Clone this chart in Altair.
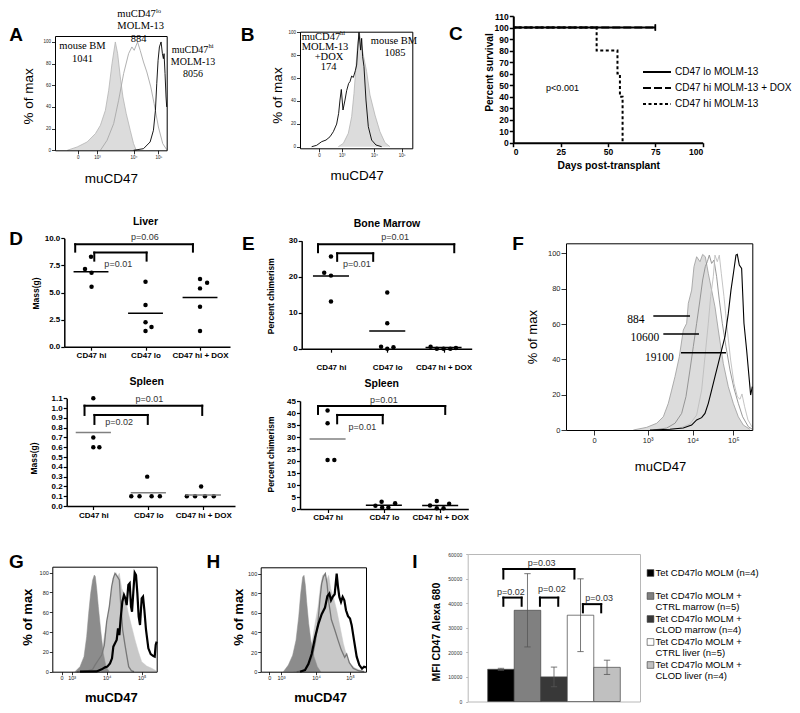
import altair as alt
import pandas as pd

W, H = 784, 697
M = 8
SANS = "Liberation Sans"
SERIF = "Liberation Serif"

# ======================= DATA =======================
HIST_LABELS = ["0", "10³", "10⁴", "10⁵"]
PCT_TICKS = [0, 20, 40, 60, 80, 100]

# ---- A: histograms (x = display channel, y = % of max)
A_bm_x = [200, 230, 260, 285, 300, 315, 325, 335, 345, 352, 360, 368, 378, 390, 400, 408]
A_bm_y = [0, 3.1, 7.7, 15.4, 23.1, 36.9, 55.4, 80, 100, 89.2, 67.7, 49.2, 33.8, 18.5, 6.2, 0]
A_lo_x = [300, 320, 340, 355, 370, 385, 395, 402, 412, 420, 430, 440, 452, 462, 475, 488, 500]
A_lo_y = [0, 9.2, 24.6, 46.2, 70.8, 89.2, 95.4, 92.3, 100, 92.3, 81.5, 72.3, 58.5, 43.1, 21.5, 6.2, 0.6]
A_hi_x = [400, 430, 450, 460, 466, 470, 474, 478, 483, 487, 490, 492, 495, 498, 500]
A_hi_y = [0, 1.5, 7.7, 18.5, 36.9, 61.5, 83.1, 95.4, 100, 89.2, 84.6, 89.2, 70.8, 49.2, 40]
A_ticks = [232, 290, 400, 475]

# ---- B
B_dox_x = [185, 200, 215, 228, 240, 250, 260, 266, 270, 274, 279, 285, 290, 296, 300, 305, 310, 316,
           320, 323, 327, 332, 335, 338, 342, 348, 355, 365, 378, 395]
B_dox_y = [0, 1.2, 4.4, 5.8, 8.7, 13.1, 19.8, 29.2, 40.8, 50.1, 32.1, 40.8, 49, 55.4, 56.9, 61.8, 60.6, 66.5,
           71.4, 84.5, 100, 84.5, 94.8, 78.7, 70, 40.8, 17.5, 5.8, 1.5, 0]
B_bm_x = [265, 280, 295, 305, 312, 318, 323, 328, 333, 340, 350, 360, 375, 390, 405, 420]
B_bm_y = [0, 2.9, 11.7, 26.2, 46.6, 70, 90.4, 100, 91.8, 80.2, 65.6, 45.2, 27.7, 13.1, 3.5, 0]
B_ticks = [207, 275, 372, 455]

# ---- C: survival
C_series = ["CD47 lo MOLM-13", "CD47 hi MOLM-13 + DOX", "CD47 hi MOLM-13"]
C_days = [[0, 75], [0, 75], [0, 44, 55, 56.3, 57.7]]
C_surv = [[100, 100], [100, 100], [100, 80, 60, 40, 0]]

# ---- D / E: dot plots
CATS = ["CD47 hi", "CD47 lo", "CD47 hi + DOX"]
GROUP = [1, 1, 1, 1, 2, 2, 2, 2, 2, 3, 3, 3, 3, 3]

liver_jit = [-0.11, 0, 0.01, 0.01, 0, 0, 0, 0, 0.11, 0, 0.13, 0, 0, 0]
liver_mass = [7.17, 8.3, 6.83, 5.54, 6.0, 3.85, 2.25, 1.45, 1.82, 6.25, 5.9, 5.38, 3.69, 1.45]
liver_mean = [6.92, 3.08, 4.55]

dspl_jit = [0, 0, 0, 0.11, -0.02, -0.31, -0.16, 0.06, 0.21, -0.04, -0.30, -0.15, 0.03, 0.19]
dspl_mass = [1.1, 0.7, 0.6, 0.6, 0.3, 0.1, 0.1, 0.1, 0.1, 0.2, 0.1, 0.1, 0.1, 0.1]
dspl_mean = [0.75, 0.136, 0.112]

bm_jit = [-0.12, 0, 0, 0, 0, 0, -0.11, 0, 0.11, -0.23, -0.12, 0, 0.12, 0.22]
bm_chim = [21.1, 25.6, 20.3, 13.1, 15.6, 7.1, 0.55, 0.0, 0.4, 0.55, 0, 0, 0, 0.2]
bm_mean = [20.2, 4.9, 0.3]

espl_jit = [0, 0, 0, 0.12, -0.04, -0.15, -0.03, 0.08, 0.20, -0.06, -0.18, -0.06, 0.06, 0.16]
espl_chim = [41.0, 35.7, 20.4, 20.4, 3.06, 1.4, 0.6, 0.6, 2.4, 3.3, 1.5, 0.3, 0.3, 2.2]
espl_mean = [29.2, 1.53, 1.5]

# significance brackets (left x, right x, top y, leg end y, label x, label y, text)
liver_br = dict(xl=[0.71, 1.06], xr=[2.87, 2.02], top=[9.45, 8.68], leg=[8.77, 7.94],
                lx=[1.99, 1.5], ly=[10.1, 7.6], p=["p=0.06", "p=0.01"])
dspl_br = dict(xl=[0.84, 1.02], xr=[2.98, 1.99], top=[1.025, 0.93], leg=[0.93, 0.838],
               lx=[2.02, 1.47], ly=[1.09, 0.862], p=["p=0.01", "p=0.02"])
bm_br = dict(xl=[0.77, 1.11], xr=[3.19, 1.75], top=[29.0, 26.5], leg=[26.8, 24.4],
             lx=[2.14, 1.46], ly=[31.0, 23.4], p=["p=0.01", "p=0.01"])
espl_br = dict(xl=[0.83, 1.17], xr=[3.09, 1.98], top=[42.9, 39.2], leg=[39.6, 35.7],
               lx=[2.0, 1.62], ly=[45.4, 34.3], p=["p=0.01", "p=0.01"])

# ---- F histograms
F_bm_x = [340, 380, 410, 430, 445, 455, 465, 478, 490, 500, 505, 515, 522, 530, 540, 548, 556, 565, 575,
          585, 595, 610, 625, 640, 655, 670, 690]
F_bm_y = [0, 1.5, 3.8, 7.5, 15.1, 22.6, 30.2, 41.5, 56.6, 60.4, 71.7, 79.2, 92.5, 98.1, 95.3, 99.4, 98.1,
          88.7, 79.2, 69.8, 56.6, 37.7, 24.5, 15.1, 7.5, 2.8, 0.4]
F_mid_x = [400, 440, 465, 485, 498, 510, 520, 530, 540, 548, 556, 562, 568, 575, 582, 590, 598, 607, 618,
           630, 642, 655, 668, 685, 697]
F_mid_y = [0, 1.1, 3.8, 9.4, 18.9, 34, 47.2, 60.4, 73.6, 84.9, 92.5, 95.3, 99, 94.3, 96.2, 86.8, 73.6,
           60.4, 47.2, 34, 23.6, 15.1, 7.5, 1.9, 0.4]
F_lt_x = [430, 480, 510, 530, 545, 555, 565, 572, 580, 585, 592, 598, 604, 612, 622, 632, 642, 652, 660,
          666, 674, 684, 697]
F_lt_y = [0, 1.1, 3.4, 8.5, 22.6, 41.5, 60.4, 75.5, 86.8, 99, 95.3, 99, 88.7, 75.5, 56.6, 39.6, 26.4,
          18.9, 17.4, 20.4, 13.2, 5.7, 1.5]
F_hi_x = [390, 450, 490, 515, 530, 545, 555, 565, 575, 585, 595, 605, 615, 625, 633, 641, 648, 652, 658,
          665, 672, 680, 688, 692, 697]
F_hi_y = [0, 0.4, 1.1, 2.8, 5.7, 7, 9.4, 15.1, 22.6, 30.2, 37.7, 45.3, 52.8, 66, 79.2, 89.6, 99, 99.4,
          93.4, 91.5, 60.4, 45.3, 28.3, 19.8, 24.5]
F_ticks = [222, 383, 518, 640]
F_mfi = ["884", "10600", "19100"]
F_gate_x1 = [400, 430, 483]
F_gate_x2 = [510, 537, 618]
F_gate_y = [64.5, 54.3, 43.8]

# ---- G histograms
G_dk_x = [225, 240, 252, 260, 266, 272, 278, 283, 286, 290, 295, 302, 310, 318, 328]
G_dk_y = [0, 5.1, 15.2, 35.4, 58.9, 79.1, 92.6, 97.6, 96, 84.2, 65.7, 42.1, 18.5, 5.1, 0]
G_lt_x = [255, 280, 298, 308, 316, 324, 332, 340, 348, 353, 358, 365, 375, 385, 395, 405, 415, 425, 440,
          455, 468]
G_lt_y = [0, 5.1, 11.8, 25.3, 42.1, 55.6, 75.8, 94.3, 100, 96, 99.3, 84.2, 75.8, 58.9, 45.5, 32, 20.2,
          10.1, 5.7, 3.4, 1]
G_gr_x = [230, 265, 278, 285, 295, 305, 313, 320, 328, 335, 340, 345, 352, 358, 362, 368, 375, 380, 386,
          394, 402]
G_gr_y = [0, 1, 2.4, 6.7, 11.8, 16.8, 26.9, 50.5, 65.7, 85.9, 94.3, 99.3, 96, 92.6, 69, 42.1, 26.9, 16.8,
          5.1, 1, 0]
G_bk_x = [240, 290, 305, 315, 322, 330, 336, 340, 345, 350, 354, 358, 362, 367, 372, 376, 380, 385, 389,
          393, 396, 400, 404, 408, 412, 416, 420, 425, 429, 433, 438, 445, 452, 460, 464, 467, 470]
G_bk_y = [0, 0.3, 2.4, 4.4, 5.1, 8.4, 13.5, 25.3, 28.6, 32, 43.8, 37, 53.9, 70.7, 77.4, 74.1, 67.3, 87.5,
          89.2, 65.7, 60.6, 80.8, 100, 97.6, 79.1, 55.6, 47.1, 74.1, 75.8, 62.3, 42.1, 23.6, 17.8, 15.8,
          15.2, 26.9, 30.3]
G_ticks = [185, 215, 320, 425]

# ---- H histograms
H_dk_x = [130, 145, 158, 168, 176, 182, 188, 192, 196, 200, 206, 213, 222, 232, 242]
H_dk_y = [0, 6.8, 16.9, 32.2, 55.9, 79.7, 96.6, 98.3, 88.1, 71.2, 49.2, 30.5, 15.3, 5.1, 0]
H_lt_x = [160, 180, 195, 208, 218, 226, 234, 241, 248, 254, 260, 266, 272, 280, 290, 300, 310, 320, 330,
          345, 360, 375]
H_lt_y = [0, 3.1, 7.8, 20.3, 33.9, 50.8, 66.1, 86.4, 98.3, 100, 93.2, 98.3, 84.7, 76.3, 62.7, 45.8, 28.8,
          15.9, 7.8, 3.7, 1.7, 0]
H_gr_x = [170, 195, 208, 218, 226, 234, 240, 245, 250, 256, 261, 267, 274, 284, 294, 304, 314, 320, 328,
          340, 355, 372]
H_gr_y = [0, 1.7, 7.8, 16.9, 30.5, 50.8, 74.6, 89.8, 96.6, 100, 89.8, 69.5, 53.2, 43.1, 32.2, 22, 14.6,
          18, 9.2, 3.4, 1, 0]
H_bk_x = [180, 195, 205, 215, 225, 235, 245, 255, 262, 268, 273, 278, 284, 290, 294, 298, 303, 308, 313,
          318, 324, 330, 335, 342, 350, 358, 366, 372, 378]
H_bk_y = [0, 1.7, 7.8, 18, 34.9, 48.5, 58.6, 65.4, 76.9, 79.7, 72.9, 76.3, 79, 100, 86.4, 76.3, 71.2, 76.3,
          72.9, 62.7, 56.6, 54.2, 47.5, 32.2, 15.3, 6.8, 3.1, 5.1, 4.4]
H_ticks = [88, 123, 228, 330]

# ---- I: bar chart
I_groups = ["Tet CD47lo MOLM (n=4)", "Tet CD47lo MOLM + CTRL marrow (n=5)",
            "Tet CD47lo MOLM + CLOD marrow (n=4)", "Tet CD47lo MOLM + CTRL liver (n=5)",
            "Tet CD47lo MOLM + CLOD liver (n=4)"]
I_mean = [13100, 37100, 10000, 35100, 13900]
I_err = [400, 14900, 4000, 14800, 2900]
I_colors = ["#000000", "#808080", "#383838", "#ffffff", "#c0c0c0"]
I_br = dict(xl=[1.09, 1.09, 2.47, 4.09], xr=[3.77, 1.78, 3.16, 4.78],
            top=[53867, 42267, 42267, 39600], leg=[50000, 38933, 38933, 36267],
            lx=[2.53, 1.37, 2.92, 4.70], ly=[56533, 44667, 45600, 42000],
            p=["p=0.03", "p=0.02", "p=0.02", "p=0.03"])

# ======================= LAYOUT (page pixels) =======================
GEOM = {
    'A': dict(xd=[163, 500], xr=[55, 166.7], yd=[0, 105.5], yr=[150.3, 36]),
    'B': dict(xd=[150, 487], xr=[300, 412.3], yd=[-1.4, 100.6], yr=[148.3, 31.7]),
    'C': dict(xd=[0, 100], xr=[513.3, 702.7], yd=[0, 110], yr=[142.7, 16]),
    'Dl': dict(xd=[0.51, 3.55], xr=[64.3, 230], yd=[0, 10], yr=[346.7, 238.3]),
    'Ds': dict(xd=[0.516, 3.576], xr=[66.7, 235], yd=[0, 1.1], yr=[506, 398.3]),
    'Eb': dict(xd=[0.48, 3.50], xr=[301.7, 471.7], yd=[0, 30], yr=[348.7, 240.7]),
    'Es': dict(xd=[0.51, 3.50], xr=[300, 468.3], yd=[0, 45], yr=[509, 401]),
    'F': dict(xd=[138, 697], xr=[566, 752.3], yd=[0, 105.7], yr=[430, 243.3]),
    'G': dict(xd=[157, 470], xr=[52.3, 156.7], yd=[0, 106], yr=[671.7, 566.7]),
    'H': dict(xd=[62, 378], xr=[260.7, 366], yd=[0, 106.5], yr=[671.7, 567.3]),
    'I': dict(xd=[-0.254, 6.243], xr=[467.7, 640], yd=[0, 60000], yr=[701.5, 554]),
}


def px(v):
    return v - M


def py(v):
    return v - M


def sx(p):
    g = GEOM[p]
    return alt.Scale(domain=g['xd'], range=[px(g['xr'][0]), px(g['xr'][1])], nice=False, zero=False)


def sy(p):
    g = GEOM[p]
    return alt.Scale(domain=g['yd'], range=[py(g['yr'][0]), py(g['yr'][1])], nice=False, zero=False)


def axis(p, orient, **kw):
    g = GEOM[p]
    if orient == 'left':
        off = -px(g['xr'][0])
    elif orient == 'right':
        off = px(g['xr'][1]) - W
    elif orient == 'bottom':
        off = py(g['yr'][0]) - H
    else:
        off = -py(g['yr'][1])
    base = dict(orient=orient, offset=off, grid=False)
    base.update(kw)
    return alt.Axis(**base)


def tick_expr(vals, labs):
    e = "''"
    for v, l in reversed(list(zip(vals, labs))):
        e = f"datum.value == {v} ? '{l}' : ({e})"
    return e


def txt(s, x, y, size, weight='normal', font=SANS, color='black', align='center', angle=0, baseline='middle'):
    return alt.Chart(pd.DataFrame({'t': [s]})).mark_text(
        fontSize=size, fontWeight=weight, font=font, color=color, align=align, angle=angle, baseline=baseline
    ).encode(x=alt.value(px(x)), y=alt.value(py(y)), text='t:N')


def hist_panel(p, curves, ticks, lab, ytxy, xtxy, tsize, tweight, tlen):
    g = GEOM[p]
    xa = axis(p, 'bottom', values=ticks, labelExpr=tick_expr(ticks, HIST_LABELS), labelFontSize=lab,
              labelColor='#222', tickSize=tlen, tickWidth=0.8, tickColor='black', domainColor='black',
              domainWidth=1, labelPadding=1, title='muCD47', titleX=px(xtxy[0]),
              titleY=py(xtxy[1]) - py(g['yr'][0]), titleFontSize=tsize, titleFontWeight=tweight,
              titleBaseline='middle', titleAlign='center', titleColor='black', zindex=1)
    ya = axis(p, 'left', values=PCT_TICKS, labelFontSize=lab, labelColor='#222', tickSize=tlen, tickWidth=0.8,
              tickColor='black', domainColor='black', domainWidth=1, labelPadding=1, title='% of max',
              titleX=px(ytxy[0]) - px(g['xr'][0]), titleY=py(ytxy[1]), titleAngle=270, titleFontSize=tsize,
              titleFontWeight=tweight, titleBaseline='middle', titleAlign='center', titleColor='black', zindex=1)
    ta = axis(p, 'top', labels=False, ticks=False, domainColor='black', domainWidth=1, title=None, zindex=1)
    ra = axis(p, 'right', labels=False, ticks=False, domainColor='black', domainWidth=1, title=None, zindex=1)
    sets = [(xa, ya), (ta, ra)]
    out = []
    for i, (kind, xs, ys, fill, stroke, sw) in enumerate(curves):
        df = pd.DataFrame({'x': xs, 'y': ys})
        axx, axy = sets[i] if i < 2 else (None, None)
        enc = dict(x=alt.X('x:Q', scale=sx(p), axis=axx), y=alt.Y('y:Q', scale=sy(p), axis=axy))
        plain = dict(x=alt.X('x:Q', scale=sx(p), axis=None), y=alt.Y('y:Q', scale=sy(p), axis=None))
        if kind == 'area':
            out.append(alt.Chart(df).mark_area(color=fill, opacity=1).encode(**enc))
            out.append(alt.Chart(df).mark_line(color=stroke, strokeWidth=sw).encode(**plain))
        else:
            out.append(alt.Chart(df).mark_line(color=stroke, strokeWidth=sw).encode(**enc))
    return out


def bracket_layers(p, br, sw, fs):
    segs = []
    for xl, xr, t, l in zip(br['xl'], br['xr'], br['top'], br['leg']):
        segs += [(xl, xr, t, t), (xl, xl, l, t), (xr, xr, l, t)]
    sd = pd.DataFrame(segs, columns=['x1', 'x2', 'y1', 'y2'])
    lab = pd.DataFrame({'x': br['lx'], 'y': br['ly'], 't': br['p']})
    return [
        alt.Chart(sd).mark_rule(color='black', strokeWidth=sw, strokeCap='square').encode(
            x=alt.X('x1:Q', scale=sx(p), axis=None), x2='x2:Q',
            y=alt.Y('y1:Q', scale=sy(p), axis=None), y2='y2:Q'),
        alt.Chart(lab).mark_text(fontSize=fs, color='#333', font=SANS).encode(
            x=alt.X('x:Q', scale=sx(p), axis=None), y=alt.Y('y:Q', scale=sy(p), axis=None), text='t:N'),
    ]


def dot_panel(p, jit, vals, means, mcolors, br, yvals, yfmt, xpad, ytitle, ytxy):
    g = GEOM[p]
    ya = axis(p, 'left', values=yvals, format=yfmt, labelFontSize=8, labelFontWeight='bold', labelColor='black',
              tickSize=3.5, tickWidth=1.2, tickColor='black', domainColor='black', domainWidth=1.5,
              labelPadding=1, title=ytitle, titleX=px(ytxy[0]) - px(g['xr'][0]), titleY=py(ytxy[1]),
              titleAngle=270, titleFontSize=8.5, titleFontWeight='bold', titleBaseline='middle',
              titleAlign='center', titleColor='black')
    xa = axis(p, 'bottom', values=[1, 2, 3], labelExpr=tick_expr([1, 2, 3], CATS), labelFontSize=8,
              labelFontWeight='bold', labelColor='black', tickSize=3.5, tickWidth=1.2, tickColor='black',
              domainColor='black', domainWidth=1.5, labelPadding=xpad, title=None)
    pts = pd.DataFrame({'x': [a + b for a, b in zip(GROUP, jit)], 'v': vals})
    out = [alt.Chart(pts).mark_circle(size=20, color='black', opacity=1).encode(
        x=alt.X('x:Q', scale=sx(p), axis=xa), y=alt.Y('v:Q', scale=sy(p), axis=ya))]
    md = pd.DataFrame({'g': [1, 2, 3], 'm': means, 'c': mcolors})
    md['a'] = md['g'] - 0.32
    md['b'] = md['g'] + 0.32
    out.append(alt.Chart(md).mark_rule(strokeWidth=1.5).encode(
        x=alt.X('a:Q', scale=sx(p), axis=None), x2='b:Q',
        y=alt.Y('m:Q', scale=sy(p), axis=None), color=alt.Color('c:N', scale=None)))
    out += bracket_layers(p, br, 2, 9)
    return out


layers = []

# ---------------- A ----------------
layers += hist_panel('A', [
    ('area', A_bm_x, A_bm_y, '#dcdcdc', '#b4b4b4', 0.8),
    ('line', A_lo_x, A_lo_y, None, '#a8a8a8', 0.9),
    ('line', A_hi_x, A_hi_y, None, '#000000', 0.9),
], A_ticks, 4.5, (28.3, 95.8), (110.8, 178.3), 13.5, 'normal', 3.5)
layers += [
    txt('mouse BM', 82.5, 45.8, 10.5, font=SERIF),
    txt('1041', 82.5, 59, 10.5, font=SERIF),
    txt('muCD47', 117.3, 14, 10.5, font=SERIF, align='left'),
    txt('lo', 156, 10.5, 6.5, font=SERIF, align='left'),
    txt('MOLM-13', 140.7, 26, 10.5, font=SERIF),
    txt('884', 138.7, 38.5, 10.5, font=SERIF),
    txt('muCD47', 171.7, 49.5, 10, font=SERIF, align='left'),
    txt('hi', 208.5, 46, 6.5, font=SERIF, align='left'),
    txt('MOLM-13', 193, 61.5, 10, font=SERIF),
    txt('8056', 193, 74, 10, font=SERIF),
]

# ---------------- B ----------------
layers += hist_panel('B', [
    ('area', B_bm_x, B_bm_y, '#dcdcdc', '#b4b4b4', 0.8),
    ('line', B_dox_x, B_dox_y, None, '#000000', 0.9),
], B_ticks, 4.5, (277.5, 95), (356.7, 175), 13.5, 'normal', 3.5)
layers += [
    txt('muCD47', 301.7, 36.5, 10.5, font=SERIF, align='left'),
    txt('hi', 340, 33, 6.5, font=SERIF, align='left'),
    txt('MOLM-13', 325, 46.5, 10.5, font=SERIF),
    txt('+DOX', 329, 57, 10.5, font=SERIF),
    txt('174', 328.7, 67, 10.5, font=SERIF),
    txt('mouse BM', 394, 40.5, 10.5, font=SERIF),
    txt('1085', 395, 52.5, 10.5, font=SERIF),
]

# ---------------- C ----------------
rows = []
for s, ds, vs in zip(C_series, C_days, C_surv):
    for d, v in zip(ds, vs):
        rows.append((s, d, v))
cdf = pd.DataFrame(rows, columns=['series', 'day', 'surv'])
gC = GEOM['C']
cx = axis('C', 'bottom', values=[0, 25, 50, 75, 100], labelFontSize=8.5, labelFontWeight='bold',
          labelColor='black', tickSize=4, tickWidth=1.5, tickColor='black', domainColor='black', domainWidth=2,
          labelPadding=1, title='Days post-transplant', titleX=px(608.3), titleY=py(165.7) - py(gC['yr'][0]),
          titleFontSize=10.3, titleFontWeight='bold', titleBaseline='middle', titleAlign='center',
          titleColor='black')
cy = axis('C', 'left', values=list(range(0, 111, 10)), labelFontSize=8.5, labelFontWeight='bold',
          labelColor='black', tickSize=4, tickWidth=1.5, tickColor='black', domainColor='black', domainWidth=2,
          labelPadding=1, title='Percent survival', titleX=px(489) - px(gC['xr'][0]), titleY=py(72),
          titleAngle=270, titleFontSize=10.2, titleFontWeight='bold', titleBaseline='middle',
          titleAlign='center', titleColor='black')
layers.append(alt.Chart(cdf).mark_line(interpolate='step-after', strokeWidth=2, color='black').encode(
    x=alt.X('day:Q', scale=sx('C'), axis=cx),
    y=alt.Y('surv:Q', scale=sy('C'), axis=cy),
    strokeDash=alt.StrokeDash('series:N', scale=alt.Scale(domain=C_series, range=[[1, 0], [8, 3], [3, 2.5]]),
                              legend=alt.Legend(orient='none', legendX=px(642), legendY=py(64), title=None,
                                                symbolType='stroke', symbolSize=784, symbolStrokeWidth=2,
                                                symbolStrokeColor='black', labelFontSize=10, labelFont=SANS,
                                                clipHeight=16, rowPadding=0, labelOffset=3, labelLimit=300)),
))
cen = pd.DataFrame({'day': [C_days[0][-1], C_days[1][-1]], 'surv': [C_surv[0][-1], C_surv[1][-1]]})
layers.append(alt.Chart(cen).mark_point(shape='M0,-1V1', size=40, color='black', strokeWidth=1.5,
                                        filled=False, opacity=1).encode(
    x=alt.X('day:Q', scale=sx('C'), axis=None), y=alt.Y('surv:Q', scale=sy('C'), axis=None)))
layers.append(txt('p<0.001', 562.5, 88.3, 9))

# ---------------- D ----------------
layers += dot_panel('Dl', liver_jit, liver_mass, liver_mean, ['black'] * 3, liver_br,
                    [0, 2.5, 5, 7.5, 10], '.1f', 1, 'Mass(g)', (35, 293))
layers += dot_panel('Ds', dspl_jit, dspl_mass, dspl_mean, ['#808080'] * 3, dspl_br,
                    [round(0.1 * k, 1) for k in range(12)], '.1f', 1.5, 'Mass(g)', (34, 458))
layers += [txt('Liver', 145.5, 222, 10.5, 'bold'), txt('Spleen', 146.7, 382, 10.5, 'bold')]

# ---------------- E ----------------
layers += dot_panel('Eb', bm_jit, bm_chim, bm_mean, ['black'] * 3, bm_br,
                    [0, 10, 20, 30], 'd', 11.5, 'Percent chimerism', (270, 295.7))
layers += dot_panel('Es', espl_jit, espl_chim, espl_mean, ['#808080', 'black', 'black'], espl_br,
                    list(range(0, 46, 5)), 'd', 0.5, 'Percent chimerism', (270, 454))
layers += [txt('Bone Marrow', 387, 224, 10.5, 'bold'), txt('Spleen', 381.7, 384, 10.5, 'bold')]

# ---------------- F ----------------
layers += hist_panel('F', [
    ('area', F_bm_x, F_bm_y, '#dcdcdc', '#9a9a9a', 0.8),
    ('line', F_mid_x, F_mid_y, None, '#8c8c8c', 0.9),
    ('line', F_lt_x, F_lt_y, None, '#bdbdbd', 0.9),
    ('line', F_hi_x, F_hi_y, None, '#000000', 1.1),
], F_ticks, 7.5, (532.7, 336.7), (660, 466), 13, 'normal', 5)
gdf = pd.DataFrame({'a': F_gate_x1, 'b': F_gate_x2, 'y': F_gate_y})
layers.append(alt.Chart(gdf).mark_rule(color='black', strokeWidth=1.5).encode(
    x=alt.X('a:Q', scale=sx('F'), axis=None), x2='b:Q', y=alt.Y('y:Q', scale=sy('F'), axis=None)))
fl = pd.DataFrame({'x': [348, 375, 418], 'y': [62.3, 52.3, 40.6], 't': F_mfi})
layers.append(alt.Chart(fl).mark_text(font=SERIF, fontSize=11.5, color='black').encode(
    x=alt.X('x:Q', scale=sx('F'), axis=None), y=alt.Y('y:Q', scale=sy('F'), axis=None), text='t:N'))

# ---------------- G / H ----------------
layers += hist_panel('G', [
    ('area', G_lt_x, G_lt_y, '#c8c8c8', '#c8c8c8', 0.5),
    ('area', G_dk_x, G_dk_y, '#8c8c8c', '#8c8c8c', 0.5),
    ('line', G_gr_x, G_gr_y, None, '#777777', 1.3),
    ('line', G_bk_x, G_bk_y, None, '#000000', 2.2),
], G_ticks, 5.5, (27.3, 616.7), (110.8, 697), 13, 'bold', 3)
layers += hist_panel('H', [
    ('area', H_lt_x, H_lt_y, '#c8c8c8', '#c8c8c8', 0.5),
    ('area', H_dk_x, H_dk_y, '#8c8c8c', '#8c8c8c', 0.5),
    ('line', H_gr_x, H_gr_y, None, '#777777', 1.3),
    ('line', H_bk_x, H_bk_y, None, '#000000', 2.2),
], H_ticks, 5.5, (238.3, 616.7), (320, 697), 13, 'bold', 3)

# ---------------- I ----------------
gI = GEOM['I']
idf = pd.DataFrame({'g': I_groups, 'm': I_mean, 'e': I_err, 'i': list(range(1, 6))})
idf['a'] = idf['i'] - 0.5
idf['b'] = idf['i'] + 0.5
idf['lo'] = idf['m'] - idf['e']
idf['hi'] = idf['m'] + idf['e']
idf['ca'] = idf['i'] - 0.12
idf['cb'] = idf['i'] + 0.12
idf['lab'] = [s.replace(' + ', ' +|') for s in I_groups]
FR = '#b8b8b8'
icolor = alt.Color('g:N', scale=alt.Scale(domain=I_groups, range=I_colors), legend=None)
iy = axis('I', 'left', values=list(range(0, 60001, 10000)), format='d', labelFontSize=5, labelColor='#333',
          tickSize=2, tickColor=FR, domainColor=FR, domainWidth=1, labelPadding=4, title='MFI CD47 Alexa 680',
          titleX=px(436) - px(gI['xr'][0]), titleY=py(631.7), titleAngle=270, titleFontSize=10.5,
          titleFontWeight='bold', titleBaseline='middle', titleAlign='center', titleColor='black')
ix = axis('I', 'bottom', labels=False, ticks=False, domainColor=FR, domainWidth=1, title=None)
layers.append(alt.Chart(idf).mark_bar(stroke='#444444', strokeWidth=0.7).encode(
    x=alt.X('a:Q', scale=sx('I'), axis=ix), x2='b:Q',
    y=alt.Y('m:Q', scale=sy('I'), axis=iy), y2=alt.datum(0),
    color=icolor))
layers.append(alt.Chart(idf).mark_rule(color='#555555', strokeWidth=0.8).encode(
    x=alt.X('i:Q', scale=sx('I'), axis=axis('I', 'top', labels=False, ticks=False, domainColor=FR,
                                              domainWidth=1, title=None)),
    y=alt.Y('lo:Q', scale=sy('I'), axis=axis('I', 'right', labels=False, ticks=False, domainColor=FR,
                                               domainWidth=1, title=None)),
    y2='hi:Q'))
for col in ['lo', 'hi']:
    layers.append(alt.Chart(idf).mark_rule(color='#555555', strokeWidth=0.8).encode(
        x=alt.X('ca:Q', scale=sx('I'), axis=None), x2='cb:Q', y=alt.Y(f'{col}:Q', scale=sy('I'), axis=None)))
layers += bracket_layers('I', I_br, 2, 9)

# legend for I (key squares + wrapped labels on a point scale)
leg_y = alt.Scale(domain=I_groups, range=[py(573), py(665)], type='point', padding=0)
layers.append(alt.Chart(idf).mark_square(size=45, stroke='#333333', strokeWidth=0.6, opacity=1).encode(
    x=alt.value(px(650.5)), y=alt.Y('g:N', scale=leg_y, axis=None), color=icolor))
layers.append(alt.Chart(idf).mark_text(align='left', baseline='alphabetic', dy=3.4, lineBreak='|',
                                       lineHeight=10.5, fontSize=9.5, font=SANS, color='black').encode(
    x=alt.value(px(655.5)), y=alt.Y('g:N', scale=leg_y, axis=None), text='lab:N'))

# ---------------- panel letters ----------------
for L, x, y in [('A', 16, 35), ('B', 247.5, 34.5), ('C', 455.8, 34), ('D', 16, 239), ('E', 248.3, 244),
                ('F', 518, 244), ('G', 16.5, 561.7), ('H', 213.3, 561.7), ('I', 415, 561.7)]:
    layers.append(txt(L, x, y, 19, 'bold'))

chart = alt.layer(*layers).resolve_scale(
    x='independent', y='independent', color='independent', strokeDash='independent'
).properties(
    width=W, height=H, padding=0, autosize=alt.AutoSizeParams(type='none'), background='white'
).configure_view(stroke=None).configure_axis(labelFont=SANS, titleFont=SANS, grid=False)

chart.save("out.html", embed_options={"renderer": "svg", "actions": False})
